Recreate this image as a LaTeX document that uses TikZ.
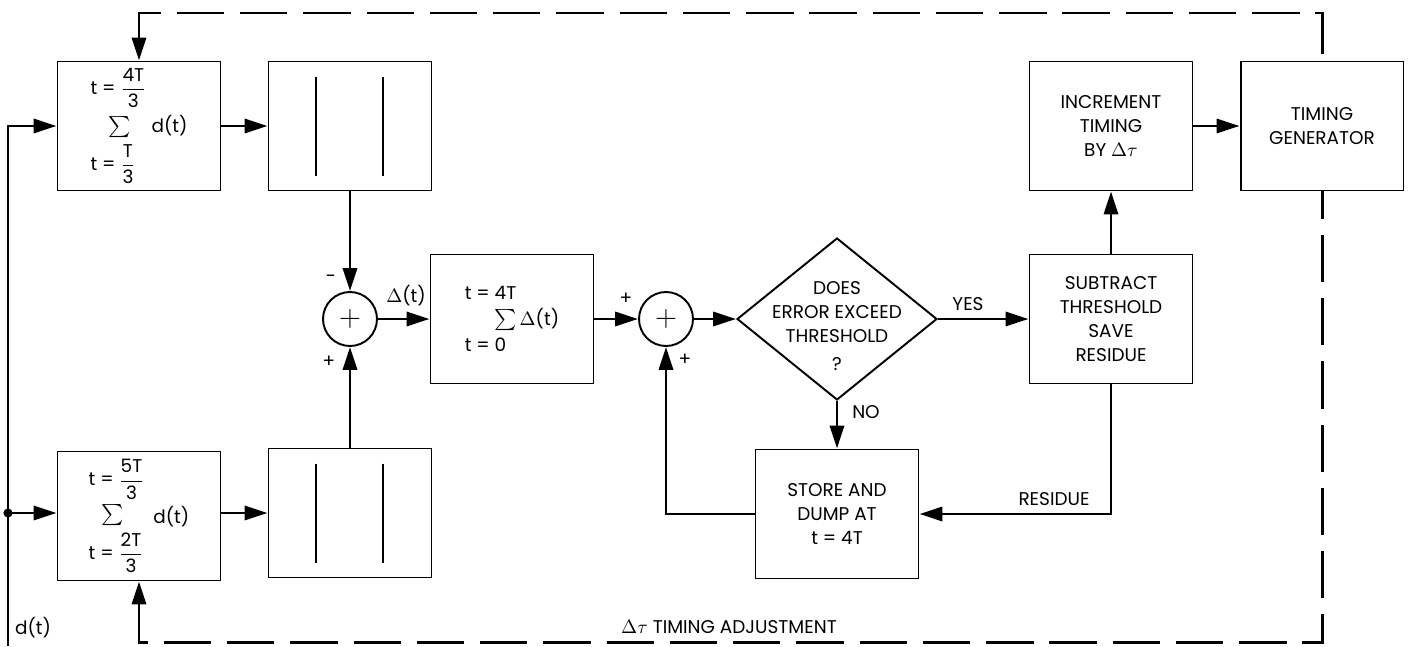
\documentclass[tikz,border=0pt]{standalone}
\usepackage{amsmath}
\usepackage{fontspec}
\setmainfont{Poppins}
\usepackage{tikz}
\usetikzlibrary{arrows.meta,shapes.geometric}

\newcommand{\bigsum}{{\fontsize{12}{12}\selectfont$\sum$}}

\begin{document}
\begin{tikzpicture}[x=0.02cm, y=-0.02cm,
  every node/.style={font=\fontsize{10.5}{13.7}\selectfont},
  blk/.style={draw, line width=1.1pt, minimum width=3.26cm, minimum height=2.58cm, inner sep=0pt, align=center},
  sumnode/.style={draw, circle, line width=1.1pt, minimum size=1.08cm, inner sep=0pt},
  decbox/.style={draw, diamond, line width=1.1pt, minimum width=4cm, minimum height=3.24cm, inner sep=0pt},
  arr/.style={line width=1.6pt, -{Triangle[length=13pt,width=8pt]}},
  fb/.style={line width=1.7pt, dash pattern=on 27pt off 9pt}]
\useasboundingbox (0,0) rectangle (1412,646);

\node[blk, align=left] (int1) at (139,126) {t~=~$\dfrac{\text{4T}}{\text{3}}$\\[3pt] \hspace*{1em}\bigsum\hspace{1.1em}d(t)\\[3pt] t~=~$\dfrac{\text{T}}{\text{3}}$};
\node[blk] (hold1) at (350,126) {};
\node[blk, align=left] (int2) at (139,516) {t~=~$\dfrac{\text{5T}}{\text{3}}$\\[2pt] \hspace*{0.7em}\bigsum\hspace{1.6em}\raisebox{-2pt}{d(t)}\\[2pt] t~=~$\dfrac{\text{2T}}{\text{3}}$};
\node[blk] (hold2) at (350,513) {};
\foreach \h in {hold1,hold2}
  \foreach \dx in {-0.68,0.66}
    \draw[line width=1.4pt] ([xshift=\dx cm, yshift=-0.32cm]\h.north) -- ([xshift=\dx cm, yshift=0.3cm]\h.south);

\node[sumnode] (sum1) at (350,319) {\fontsize{16}{16}\selectfont$+$};
\node[blk, align=left] (acc) at (512,319) {t~=~4T\\[1pt] \hspace*{1.6em}\bigsum\,$\Delta$(t)\\[1pt] t~=~0};
\node[sumnode] (sum2) at (666,319) {\fontsize{16}{16}\selectfont$+$};
\node[decbox] (dec) at (837,319) {};
\node[align=center] (dectxt) at (837,326) {DOES\\ERROR EXCEED\\THRESHOLD\\[2pt]?};
\node[blk] (sub) at (1111,319) {SUBTRACT\\THRESHOLD\\SAVE\\RESIDUE};
\node[blk] (inc) at (1111,126) {INCREMENT\\TIMING\\BY $\Delta\tau$};
\node[blk] (tg) at (1322,126) {TIMING\\GENERATOR};
\node[blk] (store) at (837,514) {STORE AND\\DUMP AT\\t = 4T};

\coordinate (in0) at (8,646);
\coordinate (tap) at (8,513);
\coordinate (tl) at (139,13);
\coordinate (tr) at (1322,13);
\coordinate (bl) at (139,642);
\coordinate (br) at (1322,642);

\draw[arr] (in0) |- (int1.west);
\fill (tap) circle (2.6pt);
\draw[arr] (tap) -- (tap -| int2.west);
\draw[arr] (int1) -- (hold1);
\draw[arr] (tap -| int2.east) -- (hold2);
\draw[arr] (hold1) -- (sum1);
\draw[arr] (hold2) -- (sum1);
\draw[arr] (sum1) -- (acc);
\draw[arr] (acc) -- (sum2);
\draw[arr] (sum2) -- (dec.west);
\draw[arr] (dec.east) -- (sub);
\draw[arr] (sub) -- (inc);
\draw[arr] (inc) -- (tg);
\draw[arr] (dec.south) -- (store);
\draw[arr] (sub.south) |- (store.east);
\draw[arr] (store.west) -| (sum2.south);
\draw[fb, {Triangle[length=13pt,width=8pt]}-] (int1.north) -- (tl) -- (tr) -- (tg.north);
\draw[fb, {Triangle[length=13pt,width=8pt]}-] (int2.south) -- (bl) -- (br) -- (tg.south);

\node (mlbl) at (331,279) {-};
\node (plbla) at (329,362) {+};
\node (dlbl) at (406,296) {$\Delta$(t)};
\node (plblb) at (626,299) {+};
\node (plblc) at (685,360) {+};
\node (yes) at (968,304) {YES};
\node (no) at (866,412) {NO};
\node (res) at (1054,499) {RESIDUE};
\node (dt) at (33,628) {d(t)};
\node (adj) at (729,627) {$\Delta\tau$ TIMING ADJUSTMENT};
\end{tikzpicture}
\end{document}
